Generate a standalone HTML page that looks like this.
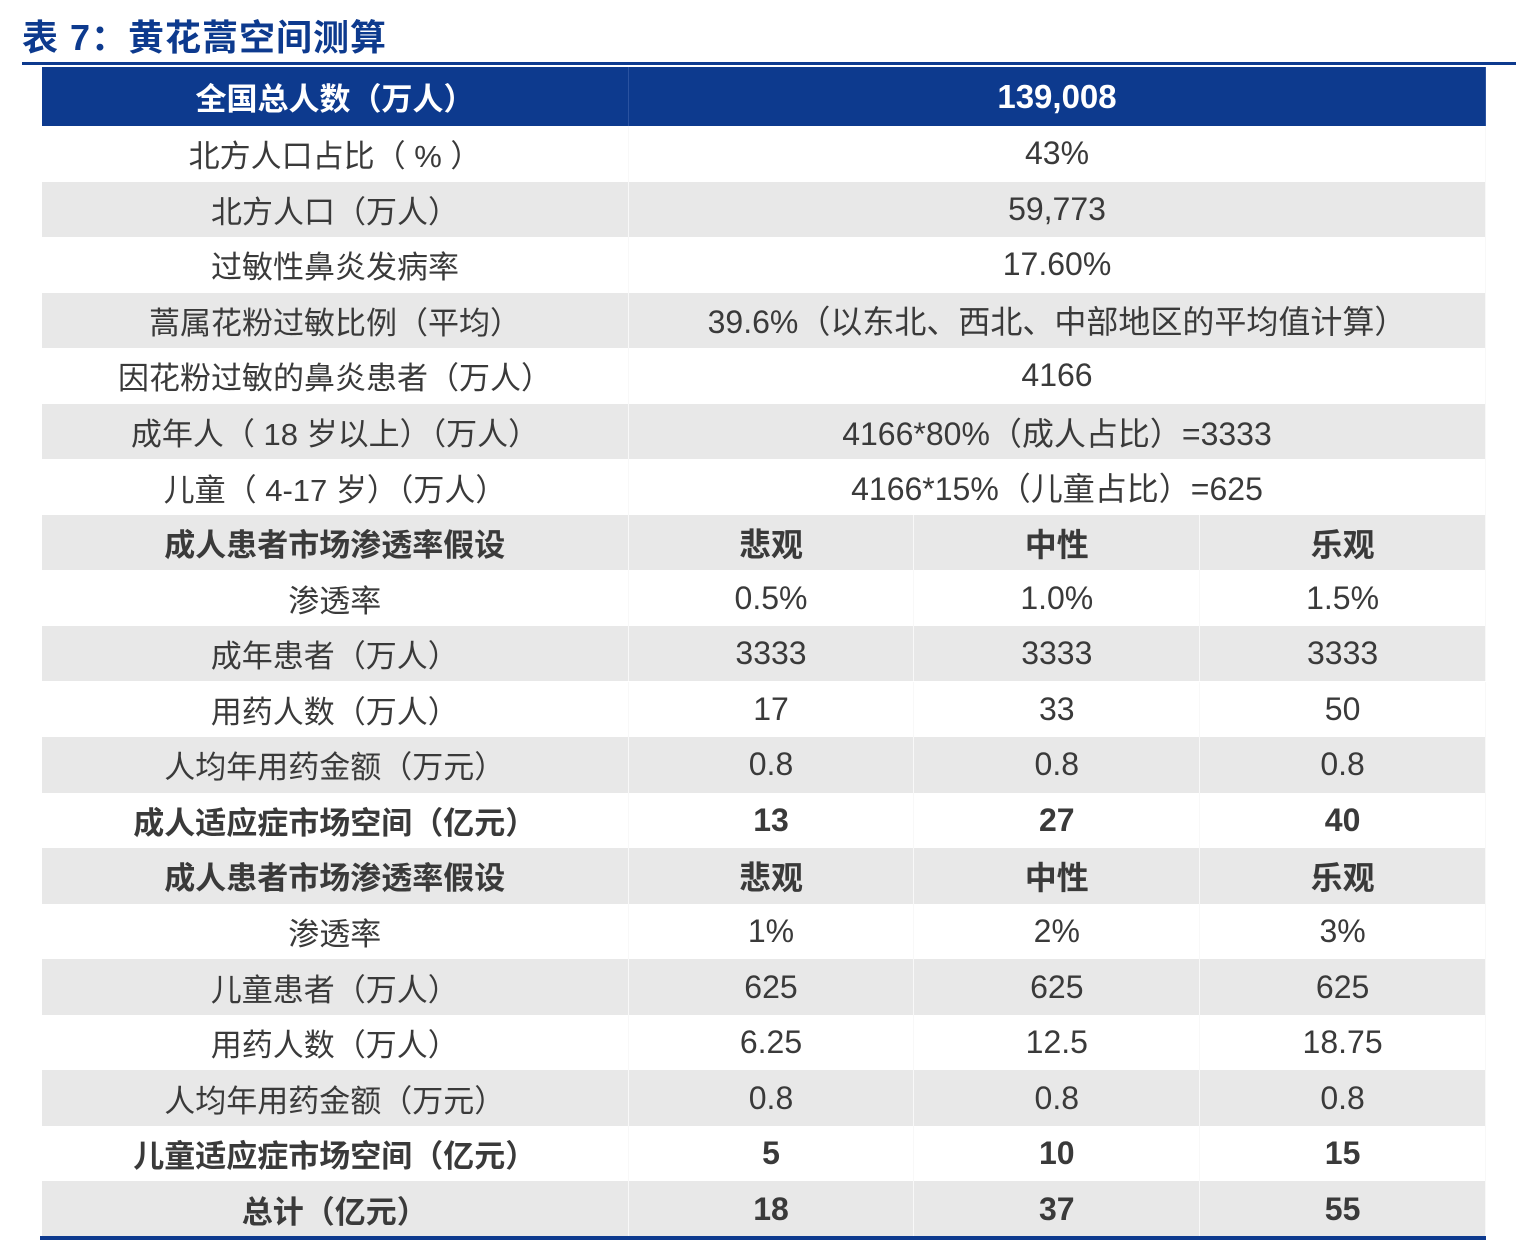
<!DOCTYPE html>
<html><head><meta charset="utf-8"><style>
body{margin:0;width:1516px;height:1240px;background:#fff;position:relative;overflow:hidden;font-family:"Liberation Sans","Noto Sans CJK SC",sans-serif;}
#title{position:absolute;left:22px;top:14px;font-size:36px;font-weight:bold;color:#0d3a8e;line-height:48px;letter-spacing:1px;}
#tline{position:absolute;left:22px;top:62px;width:1494px;height:3px;background:#0d3a8e;}
.r{position:absolute;left:42px;width:1444px;height:55.5px;display:flex;}
.r.g{background:#e8e8e8;}
.c{display:flex;align-items:center;justify-content:center;font-size:31px;color:#3a3a3a;border-right:1px solid #f8f8f8;box-sizing:border-box;}
.c1{width:587px}.c2{width:857px}.c3{width:286px}
.b .c{font-weight:bold;}
#hdr{position:absolute;left:42px;top:67px;width:1444px;height:59px;background:#0d3a8e;display:flex;}
#hdr .c{color:#fff;font-weight:bold;border-right:1px solid #2a52a0;}
#bline{position:absolute;left:40px;top:1236px;width:1446px;height:4px;background:#0d3a8e;}
</style></head><body>
<div id="title">表 7：黄花蒿空间测算</div>
<div id="tline"></div>
<div id="hdr"><div class="c c1">全国总人数（万人）</div><div class="c c2" style="font-size:33px">139,008</div></div>
<div id="rows"></div>
<div id="bline"></div>
<script>
const rows=[
["北方人口占比（ % ）","43%"],
["北方人口（万人）","59,773"],
["过敏性鼻炎发病率","17.60%"],
["蒿属花粉过敏比例（平均）","39.6%（以东北、西北、中部地区的平均值计算）"],
["因花粉过敏的鼻炎患者（万人）","4166"],
["成年人（ 18 岁以上）（万人）","4166*80%（成人占比）=3333"],
["儿童（ 4-17 岁）（万人）","4166*15%（儿童占比）=625"],
["成人患者市场渗透率假设","悲观","中性","乐观","b"],
["渗透率","0.5%","1.0%","1.5%"],
["成年患者（万人）","3333","3333","3333"],
["用药人数（万人）","17","33","50"],
["人均年用药金额（万元）","0.8","0.8","0.8"],
["成人适应症市场空间（亿元）","13","27","40","b"],
["成人患者市场渗透率假设","悲观","中性","乐观","b"],
["渗透率","1%","2%","3%"],
["儿童患者（万人）","625","625","625"],
["用药人数（万人）","6.25","12.5","18.75"],
["人均年用药金额（万元）","0.8","0.8","0.8"],
["儿童适应症市场空间（亿元）","5","10","15","b"],
["总计（亿元）","18","37","55","b"]
];
const host=document.getElementById('rows');
rows.forEach((r,i)=>{
 const d=document.createElement('div');
 
 
 d.className='r'+(i%2?' g':'')+(r[4]==='b'?' b':'');
 d.style.top=(126+i*55.55)+'px';
 const vals=r.filter(x=>x!=='b');
 vals.forEach((v,j)=>{
  const c=document.createElement('div');
  
  
  c.className='c '+(j===0?'c1':(vals.length===2?'c2':'c3'));
  if(j>0) c.style.fontSize='32px';
  c.textContent=v;
  d.appendChild(c);
 });
 host.appendChild(d);
});
</script>
</body></html>
